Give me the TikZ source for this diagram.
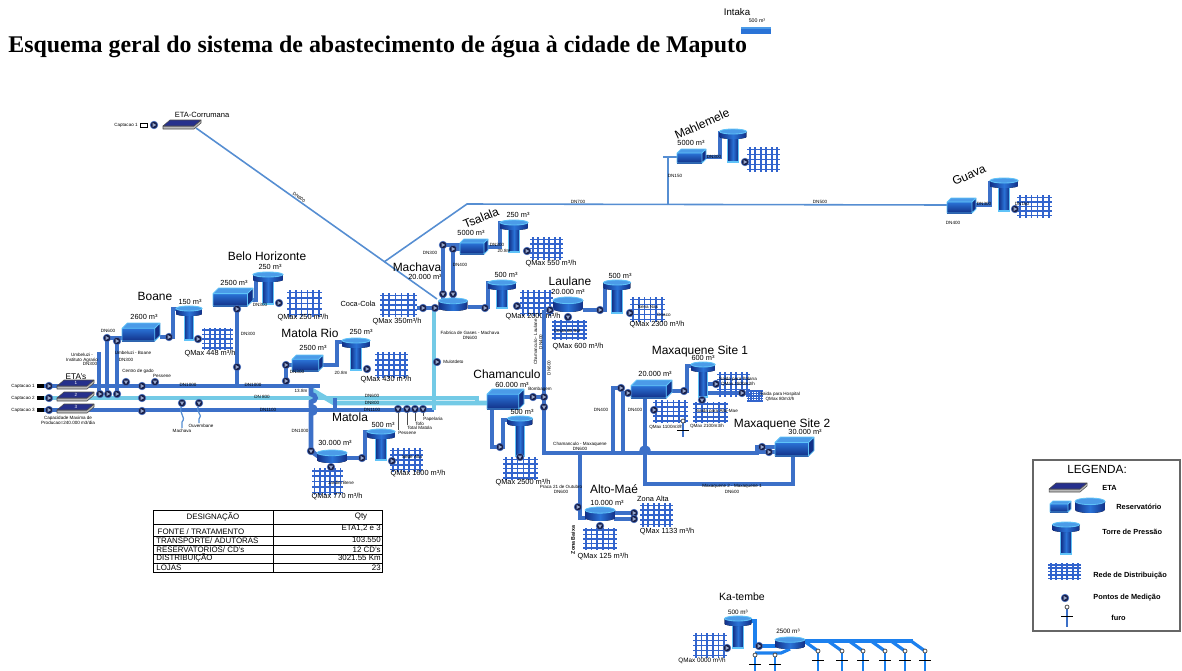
\documentclass[tikz,border=0pt]{standalone}
\usepackage{fontspec}
\setmainfont{Liberation Serif}
\setsansfont{Liberation Sans}
\definecolor{pipeblue}{RGB}{60,112,200}
\definecolor{pipecyan}{RGB}{115,202,230}
\definecolor{thinblue}{RGB}{86,142,210}
\definecolor{gridblue}{RGB}{50,100,205}
\definecolor{navy}{RGB}{22,30,72}
\definecolor{meteredge}{RGB}{70,110,190}
\definecolor{metertri}{RGB}{150,165,200}
\definecolor{resdark}{RGB}{18,48,135}
\definecolor{resmid}{RGB}{42,115,215}
\definecolor{reslight}{RGB}{75,155,232}
\definecolor{resedge}{RGB}{95,195,248}
\definecolor{etatop}{RGB}{38,48,140}
\definecolor{katblue}{RGB}{28,128,238}
\newcommand\upx{0.5669pt}

% box reservoir: left x, top y, width, height
\newcommand\ResBox[4]{%
  \pgfmathsetmacro\boxd{0.14*#3}%
  \fill[resdark] ({#1+#3-\boxd},{#2+\boxd}) -- ({#1+#3},{#2}) -- ({#1+#3},{#2+#4-\boxd}) -- ({#1+#3-\boxd},{#2+#4}) -- cycle;
  \fill[top color=resmid, bottom color=resdark] ({#1},{#2+\boxd}) rectangle ({#1+#3-\boxd},{#2+#4});
  \fill[reslight] ({#1},{#2+\boxd}) -- ({#1+\boxd},{#2}) -- ({#1+#3},{#2}) -- ({#1+#3-\boxd},{#2+\boxd}) -- cycle;
  \draw[resedge, line width=0.45pt, line join=round] ({#1},{#2+\boxd}) -- ({#1+\boxd},{#2}) -- ({#1+#3},{#2}) -- ({#1+#3},{#2+#4-\boxd}) -- ({#1+#3-\boxd},{#2+#4}) -- ({#1},{#2+#4}) -- cycle
    ({#1},{#2+\boxd}) -- ({#1+#3-\boxd},{#2+\boxd}) -- ({#1+#3},{#2}) ({#1+#3-\boxd},{#2+\boxd}) -- ({#1+#3-\boxd},{#2+#4});
}
% cylindrical reservoir: centre x, top y, width, height
\newcommand\ResCyl[4]{%
  \pgfmathsetmacro\cylry{0.22*#4}%
  \fill[left color=resdark, right color=resdark, middle color=resmid]
    ({#1-#3/2},{#2+\cylry}) -- ({#1-#3/2},{#2+#4-\cylry})
    arc[start angle=180, end angle=360, x radius={#3/2*\upx}, y radius={\cylry*\upx}]
    -- ({#1+#3/2},{#2+\cylry}) -- cycle;
  \fill[reslight] (#1,{#2+\cylry}) ellipse[x radius={#3/2*\upx}, y radius={\cylry*\upx}];
  \draw[resedge, line width=0.45pt] (#1,{#2+\cylry}) ellipse[x radius={#3/2*\upx}, y radius={\cylry*\upx}];
}
% pressure tower: centre x, top y, top width, foot y
\newcommand\Tower[4]{%
  \pgfmathsetmacro\stemw{0.19*#3}%
  \fill[left color=resdark, right color=resdark, middle color=resmid] ({#1-\stemw},{#2+8}) rectangle ({#1+\stemw},{#4});
  \draw[resedge, line width=0.6pt] ({#1-\stemw},{#2+8}) -- ({#1-\stemw},{#4}) -- ({#1+\stemw},{#4}) -- ({#1+\stemw},{#2+8});
  \fill[left color=resdark, right color=resdark, middle color=resmid]
    ({#1-#3/2},{#2+2.5}) -- ({#1-#3/2},{#2+8})
    arc[start angle=180, end angle=360, x radius={#3/2*\upx}, y radius={2*\upx}]
    -- ({#1+#3/2},{#2+2.5}) -- cycle;
  \fill[reslight] (#1,{#2+2.5}) ellipse[x radius={#3/2*\upx}, y radius={2.5*\upx}];
  \draw[resedge, line width=0.5pt] (#1,{#2+2.5}) ellipse[x radius={#3/2*\upx}, y radius={2.5*\upx}];
}
% distribution network: x0, y0, x1, y1
\newcommand\DistGrid[4]{%
  \foreach \gi in {0,...,5} {\draw[gridline] ({#1+(\gi+0.5)*(#3-#1)/6},{#2}) -- ++(0,{#4-#2});}
  \foreach \gj in {0,...,4} {\draw[gridline] ({#1},{#2+(\gj+0.5)*(#4-#2)/5}) -- ++({#3-#1},0);}
}
% measuring point
\newcommand\Meter[2]{%
  \fill[navy, draw=meteredge, line width=0.35pt] (#1,#2) circle[radius={3.8*\upx}];
  \fill[metertri] ({#1-1.3},{#2-2}) -- ({#1-1.3},{#2+2}) -- ({#1+2.2},{#2}) -- cycle;
}
\newcommand\MeterDown[2]{%
  \fill[navy, draw=meteredge, line width=0.35pt] (#1,#2) circle[radius={3.8*\upx}];
  \fill[metertri] ({#1-2},{#2-1.3}) -- ({#1+2},{#2-1.3}) -- (#1,{#2+2.2}) -- cycle;
}
% treatment plant slab: left x, top y, width
\newcommand\EtaSlab[3]{%
  \fill[gray!55, draw=black!70, line width=0.3pt, line join=round] ({#1},{#2+6}) -- ({#1+#3-7},{#2+6}) -- ({#1+#3},{#2}) -- ({#1+#3},{#2+3}) -- ({#1+#3-7},{#2+9}) -- ({#1},{#2+9}) -- cycle;
  \fill[etatop, draw=black!70, line width=0.3pt, line join=round] ({#1},{#2+6}) -- ({#1+7},{#2}) -- ({#1+#3},{#2}) -- ({#1+#3-7},{#2+6}) -- cycle;
}
% borehole: x, top y, foot y, colour
\newcommand\Furo[4]{%
  \draw[#4, line width=1.6pt] (#1,{#2+2}) -- (#1,#3);
  \draw[black, line width=0.5pt] ({#1-6},{#2+9}) -- ({#1+6},{#2+9});
  \draw[black!75, line width=0.4pt, fill=white] (#1,#2) circle[radius={2*\upx}];
}

\begin{document}
\begin{tikzpicture}[x=0.02cm, y=-0.02cm,
  mainpipe/.style={draw=pipeblue, line width=2.7pt},
  pipe/.style={draw=pipeblue, line width=2.2pt},
  cyanpipe/.style={draw=pipecyan, line width=2.7pt},
  thinpipe/.style={draw=thinblue, line width=0.9pt},
  katpipe/.style={draw=katblue, line width=1.8pt},
  gridline/.style={draw=gridblue, line width=0.9pt},
  sitelbl/.style={font=\sffamily\fontsize{6.8}{8}\selectfont, inner sep=0pt},
  vollbl/.style={font=\sffamily\fontsize{4.2}{5}\selectfont, inner sep=0pt},
  tinylbl/.style={font=\sffamily\fontsize{2.6}{3}\selectfont, inner sep=0pt, align=center},
  tablbl/.style={font=\sffamily\fontsize{4.5}{5}\selectfont, inner sep=0pt},
  leglbl/.style={font=\sffamily\bfseries\fontsize{4.2}{5}\selectfont, inner sep=0pt, anchor=west},
]
\useasboundingbox (0,0) rectangle (1182,670);
\fill[white] (0,0) rectangle (1182,670);

% ---------------- title ----------------
\node[font=\bfseries\fontsize{13.6}{15}\selectfont, inner sep=0pt, anchor=west] (title) at (8,47) {Esquema geral do sistema de abastecimento de água à cidade de Maputo};
\node[font=\sffamily\fontsize{5.5}{6}\selectfont, inner sep=0pt] (intaka) at (737,12) {Intaka};
\node[tinylbl, font=\sffamily\fontsize{3}{3.5}\selectfont] (intakav) at (757,21) {500 m³};
\fill[resmid] (741,28) rectangle (771,34);
\fill[reslight] (741,27) rectangle (771,29);

% ---------------- Corrumana transmission line ----------------
\draw[thinpipe] (196,128) -- (437,299) node[pos=0.42, sloped, above=0.5pt, tinylbl] (dncorr) {DN600};
\draw[thinpipe] (384,262) -- (467,204) -- (947,205);
\draw[thinpipe] (668,205) -- (668,157) -- (678,157);
\draw[draw=thinblue, line width=1.6pt] (663,157) -- (678,157);
\draw[draw=thinblue, line width=1.6pt] (936,205) -- (948,205);
\node[tinylbl] (dn700) at (578,202) {DN700};
\node[tinylbl] (dn500) at (820,202) {DN500};
\node[tinylbl] (dn150) at (675,176) {DN150};

\node[font=\sffamily\fontsize{4.3}{5}\selectfont, inner sep=0pt] (etacorr) at (202,115) {ETA-Corrumana};
\EtaSlab{163}{120}{38}
\draw[black, line width=0.4pt, fill=white] (140,123) rectangle (147,127);
\node[tinylbl, anchor=east] (capc) at (138,125) {Captacao 1};
\Meter{154}{125}

% ---------------- Umbeluzi system ----------------
\draw[mainpipe] (44,386) -- (320,386);
\draw[cyanpipe] (44,398) -- (477,398) -- (477,403);
\draw[mainpipe] (44,410) -- (434,410);
\draw[cyanpipe] (312,390) -- (334,403) -- (488,403);
\draw[cyanpipe] (434,311) -- (434,410);
\draw[pipe] (335,398) -- (335,410);
\draw[mainpipe] (311,386) -- (311,394) .. controls (317,395) and (317,401) .. (311,402) -- (311,406)
  .. controls (317,407) and (317,413) .. (311,414) -- (311,451) -- (318,456);

% Boane off-takes
\draw[pipe] (99,352) -- (99,393);
\draw[pipe] (107,338) -- (107,394);
\draw[pipe] (117,341) -- (117,394);
\draw[pipe] (107,338) -- (124,338);
\draw[pipe] (126,386) -- (126,383);
\draw[pipe] (155,386) -- (155,383);
\draw[draw=thinblue, line width=0.7pt] (182,406) .. controls (177,412) and (187,417) .. (182,422) -- (182,428);
\draw[draw=thinblue, line width=0.7pt] (199,406) .. controls (194,411) and (204,415) .. (199,419) -- (199,423);

\foreach \k/\yy in {1/386,2/398,3/410} {
  \fill[black] (37,{\yy-2}) rectangle (44,{\yy+2});
  \Meter{49}{\yy}
  \EtaSlab{57}{\yy-6}{37}
  \node[tinylbl, text=white] (etanum\k) at (76,{\yy-3}) {\k};
  \node[tinylbl, anchor=east] (cap\k) at (35,\yy) {Captacao \k};
}
\node[font=\sffamily\fontsize{4.7}{5}\selectfont, inner sep=0pt] (etas) at (76,377) {ETA's};
\node[tinylbl] (capac) at (68,420) {Capacidade Maxima de\\Producao=240.000 m3/dia};

\node[tinylbl] (dn1000a) at (188,385) {DN1000};
\node[tinylbl] (dn1000b) at (253,385) {DN1000};
\node[tinylbl] (dn800a) at (262,397) {DN 800};
\node[tinylbl] (dn1100a) at (268,410) {DN1100};
\node[tinylbl] (d138) at (301,391) {13.8m};

\Meter{100}{394}
\Meter{108}{394}
\Meter{117}{394}
\Meter{107}{338}
\Meter{117}{341}
\MeterDown{126}{382}
\Meter{142}{386}
\MeterDown{155}{382}
\Meter{142}{398}
\Meter{142}{411}
\MeterDown{182}{403}
\MeterDown{199}{403}
\node[tinylbl] (cgado) at (138,371) {Centro de gado};
\node[tinylbl] (pess) at (162,376) {Pessene};
\node[tinylbl] (umbia) at (82,358) {Umbeluzi -\\Instituto Agrario};
\node[tinylbl] (dn300u) at (90,364) {DN300};
\node[tinylbl] (umbbo) at (133,353) {Umbeluzi - Boane};
\node[tinylbl] (dn300b) at (126,360) {DN300};
\node[tinylbl] (dn600b) at (108,331) {DN600};
\node[tinylbl] (mach1) at (182,431) {Machava};
\node[tinylbl] (ouv) at (201,426) {Ouvembane};

% Boane
\node[sitelbl] (boane) at (155,296) {Boane};
\draw[pipe] (160,337) -- (173,337) -- (173,309) -- (178,309);
\ResBox{122}{323}{38}{18}
\node[vollbl] (boanev) at (144,317) {2600 m³};
\Tower{189}{306}{26}{340}
\node[vollbl] (boanet) at (190,302) {150 m³};
\Meter{169}{337}
\DistGrid{202}{328}{233}{350}
\Meter{198}{339}
\node[vollbl] (boaneq) at (210,354) {QMax 448 m³/h};

% Belo Horizonte
\node[sitelbl] (bh) at (267,256) {Belo Horizonte};
\draw[pipe] (237,306) -- (237,386);
\draw[pipe] (252,300) -- (256,300) -- (256,276) -- (258,276);
\ResBox{213}{288}{40}{18}
\node[vollbl] (bhv) at (234,283) {2500 m³};
\Tower{268}{272}{30}{304}
\node[vollbl] (bht) at (270,267) {250 m³};
\node[tinylbl] (bhdn) at (260,305) {DN300};
\DistGrid{287}{290}{322}{317}
\Meter{279}{303}
\node[vollbl] (bhq) at (303,318) {QMax 250 m³/h};
\Meter{237}{309}
\Meter{237}{367}
\node[tinylbl] (bhdn2) at (248,334) {DN300};

% Matola Rio
\node[sitelbl] (mrio) at (310,333) {Matola Rio};
\draw[pipe] (286,365) -- (292,365);
\draw[pipe] (286,365) -- (286,386);
\draw[pipe] (322,365) -- (337,365) -- (337,342) -- (343,342);
\ResBox{292}{355}{31}{16}
\node[vollbl] (mriov) at (313,348) {2500 m³};
\Tower{356}{338}{28}{370}
\node[vollbl] (mriot) at (361,332) {250 m³};
\node[tinylbl] (mrio208) at (341,373) {20.8m};
\DistGrid{375}{352}{408}{378}
\Meter{367}{369}
\node[vollbl] (mrioq) at (386,380) {QMax 430 m³/h};
\Meter{286}{365}
\Meter{286}{381}
\node[tinylbl] (mriodn) at (297,372) {DN300};

% Matola
\node[tinylbl] (dn600m) at (372,396) {DN600};
\node[tinylbl] (dn800m) at (372,403) {DN800};
\node[tinylbl] (dn1100m) at (372,410) {DN1100};
\draw[draw=black!70, line width=0.4pt] (398,412) -- (398,430) (407,412) -- (407,425) (415,412) -- (415,421) (423,412) -- (423,416);
\MeterDown{398}{409}
\MeterDown{407}{409}
\MeterDown{415}{409}
\MeterDown{423}{409}
\node[tinylbl, anchor=west] (mt1) at (398,433) {Pessene};
\node[tinylbl, anchor=west] (mt2) at (407,428) {Total Matola};
\node[tinylbl, anchor=west] (mt3) at (415,424) {Tofo};
\node[tinylbl, anchor=west] (mt4) at (423,419) {Papelaria};
\node[sitelbl] (matola) at (350,417) {Matola};
\node[tinylbl] (mdn1000) at (300,431) {DN1000};
\draw[pipe] (347,458) -- (365,458) -- (365,432) -- (370,432);
\ResCyl{332}{450}{30}{13}
\node[vollbl] (matv) at (335,443) {30.000 m³};
\MeterDown{311}{451}
\Meter{362}{458}
\Tower{381}{429}{28}{460}
\node[vollbl] (matt) at (383,425) {500 m³};
\DistGrid{390}{448}{423}{472}
\Meter{392}{461}
\node[tinylbl] (matsa) at (412,457) {Sede Alta};
\node[vollbl] (matq1) at (418,474) {QMax 1600 m³/h};
\DistGrid{312}{468}{343}{495}
\MeterDown{331}{467}
\node[tinylbl] (matjb) at (341,483) {Jardim Bene};
\node[vollbl] (matq2) at (337,497) {QMax 770 m³/h};

% Machava and Tsalala
\node[sitelbl] (machava) at (417,267) {Machava};
\node[vollbl] (machv) at (425,277) {20.000 m³};
\draw[pipe] (443,245) -- (443,299);
\draw[pipe] (453,249) -- (453,299);
\draw[pipe] (443,245) -- (461,245);
\draw[pipe] (453,249) -- (461,249);
\draw[pipe] (488,247) -- (500,247) -- (500,223) -- (503,223);
\draw[pipe] (468,307) -- (488,307) -- (488,283) -- (491,283);
\draw[pipe] (417,308) -- (440,308);
\ResCyl{453}{298}{29}{13}
\Meter{443}{245}
\Meter{453}{249}
\MeterDown{443}{294}
\MeterDown{453}{294}
\node[tinylbl] (mdn1) at (430,253) {DN300};
\node[tinylbl] (mdn2) at (460,265) {DN400};
\ResBox{460}{239}{28}{15}
\node[vollbl] (tsv) at (471,233) {5000 m³};
\node[sitelbl, rotate=22] (tsalala) at (481,218) {Tsalala};
\Tower{514}{220}{28}{252}
\node[vollbl] (tst) at (518,215) {250 m³};
\node[tinylbl] (tsdn) at (497,245) {DN300};
\node[tinylbl] (ts208) at (504,251) {20.8m};
\DistGrid{530}{237}{563}{260}
\Meter{527}{251}
\node[vollbl] (tsq) at (551,264) {QMax 550 m³/h};
\Tower{502}{280}{28}{308}
\node[vollbl] (macht) at (506,275) {500 m³};
\Meter{485}{308}
\DistGrid{520}{290}{553}{316}
\Meter{517}{306}
\node[vollbl] (machq) at (533,317) {QMax 2000 m³/h};
\DistGrid{380}{293}{417}{317}
\node[vollbl] (coca) at (358,304) {Coca-Cola};
\node[vollbl] (cocaq) at (397,322) {QMax 350m³/h};
\Meter{423}{308}
\Meter{435}{308}
\node[tinylbl] (fabg) at (470,335) {Fabrica de Gases - Machava\\DN600};
\Meter{437}{362}
\node[tinylbl, anchor=west] (mulot) at (443,362) {Mulotdeto};

% Mahlemele
\ResBox{677}{149}{29}{14}
\node[vollbl] (mahv) at (691,143) {5000 m³};
\node[sitelbl, rotate=24] (mahl) at (702,124) {Mahlemele};
\draw[pipe] (706,157) -- (720,157) -- (720,133) -- (722,133);
\Tower{733}{129}{27}{162}
\node[tinylbl] (mahdn) at (714,157) {DN300};
\DistGrid{747}{147}{780}{172}
\Meter{745}{162}

% Guava
\ResBox{947}{198}{29}{15}
\node[sitelbl, rotate=24] (guava) at (969,175) {Guava};
\draw[pipe] (976,205) -- (990,205) -- (990,183) -- (992,183);
\Tower{1004}{178}{28}{211}
\node[tinylbl] (guadn) at (984,204) {DN300};
\DistGrid{1017}{195}{1052}{218}
\Meter{1015}{209}
\node[tinylbl] (guadn4) at (953,223) {DN400};
\node[tinylbl] (guadn1) at (1022,204) {DN160};

% Laulane
\node[sitelbl] (laulane) at (570,281) {Laulane};
\draw[pipe] (544,310) -- (553,310);
\draw[pipe] (544,310) -- (544,453) -- (641,453) .. controls (641,445) and (649,445) .. (649,453) -- (757,453) -- (757,447) -- (776,447);
\draw[pipe] (757,452) -- (776,452);
\draw[pipe] (583,310) -- (605,310) -- (605,284) -- (607,284);
\ResCyl{568}{297}{30}{15}
\node[vollbl] (lauv) at (568,292) {20.000 m³};
\Meter{550}{310}
\Meter{600}{310}
\Tower{617}{280}{27}{313}
\node[vollbl] (laut) at (620,276) {500 m³};
\DistGrid{630}{297}{665}{322}
\Meter{630}{313}
\node[tinylbl] (lsn) at (648,307) {Sena Nas};
\node[tinylbl] (ldn) at (664,315) {Dnaco};
\node[vollbl] (lauq) at (657,325) {QMax 2300 m³/h};
\DistGrid{552}{320}{587}{340}
\MeterDown{568}{317}
\node[tinylbl] (lcos) at (567,331) {Costa do Sol};
\node[vollbl] (lauq2) at (578,347) {QMax 600 m³/h};
\node[tinylbl, rotate=90] (chlau) at (538,342) {Chamanculo - Laulane\\DN400};
\node[tinylbl, rotate=90] (dn600l) at (549,368) {DN600};

% Chamanculo
\node[sitelbl] (chaman) at (507,374) {Chamanculo};
\draw[pipe] (523,397) -- (544,397);
\draw[pipe] (492,408) -- (492,447) -- (503,447) -- (503,420) -- (510,420);
\ResBox{487}{389}{37}{20}
\node[vollbl] (chv) at (512,385) {60.000 m³};
\node[tinylbl] (chbomb) at (540,389) {Bombagem};
\Meter{533}{397}
\Meter{544}{397}
\MeterDown{544}{407}
\Meter{500}{447}
\Tower{520}{416}{25}{456}
\node[vollbl] (cht) at (522,412) {500 m³};
\DistGrid{503}{457}{538}{480}
\MeterDown{520}{457}
\node[vollbl] (chq) at (523,483) {QMax 2500 m³/h};
\node[tinylbl] (chmax) at (580,446) {Chamanculo - Maxaquene\\DN600};

% Maxaquene
\draw[pipe] (613,453) -- (613,388) -- (621,388);
\draw[pipe] (623,453) -- (623,393) -- (632,393);
\draw[pipe] (645,397) -- (645,484) -- (793,484) -- (793,455);
\draw[pipe] (671,391) -- (687,391) -- (687,366) -- (693,366);
\draw[pipe] (706,384) -- (716,384);
\draw[pipe] (706,393) -- (742,393);
\node[tinylbl] (mdn4a) at (601,410) {DN400};
\node[tinylbl] (mdn4b) at (635,410) {DN400};
\ResBox{631}{380}{41}{18}
\node[vollbl] (mx1v) at (655,374) {20.000 m³};
\node[sitelbl] (mx1) at (700,351) {Maxaquene Site 1};
\Meter{621}{388}
\Meter{628}{393}
\Meter{684}{391}
\Tower{703}{362}{24}{397}
\node[vollbl] (mx1t) at (703,358) {600 m³};
\DistGrid{717}{372}{750}{397}
\Meter{716}{384}
\node[tinylbl] (mxpol) at (738,382) {Saida para Polana\\QMax 1800m3/h};
\DistGrid{747}{390}{763}{402}
\Meter{742}{393}
\node[tinylbl] (mxhos) at (780,397) {Saida para Hospital\\QMax 80m3/h};
\DistGrid{693}{402}{728}{423}
\MeterDown{702}{400}
\node[tinylbl] (mxalt) at (717,411) {Saida para Alto-Mae};
\node[tinylbl] (mxq21) at (707,426) {QMax 2100m3/h};
\DistGrid{653}{400}{688}{423}
\Meter{654}{410}
\node[tinylbl] (mxq11) at (666,427) {QMax 1100m3/h};
\Furo{683}{421}{437}{pipeblue}
\ResBox{775}{437}{39}{19}
\node[vollbl] (mx2v) at (805,432) {30.000 m³};
\node[sitelbl] (mx2) at (782,424) {Maxaquene Site 2};
\Meter{762}{447}
\Meter{769}{452}
\node[tinylbl] (mx21) at (732,489) {Maxaquene 2 - Maxaquene 1\\DN600};

% Alto-Mae
\draw[pipe] (580,453) -- (580,518) -- (586,518);
\draw[pipe] (614,513) -- (634,513);
\draw[pipe] (614,519) -- (634,519);
\node[tinylbl] (praca) at (561,489) {Praca 21 de Outubro\\DN600};
\node[sitelbl] (altomae) at (614,489) {Alto-Maé};
\ResCyl{600}{507}{30}{14}
\node[vollbl] (amv) at (607,503) {10.000 m³};
\Meter{578}{507}
\DistGrid{640}{503}{673}{527}
\Meter{634}{513}
\Meter{634}{519}
\node[vollbl] (zalta) at (653,499) {Zona Alta};
\node[vollbl] (amq1) at (667,532) {QMax 1133 m³/h};
\DistGrid{583}{528}{617}{550}
\MeterDown{600}{526}
\node[vollbl] (amq2) at (603,557) {QMax 125 m³/h};
\node[tinylbl, rotate=90, font=\sffamily\bfseries\fontsize{3}{3.5}\selectfont] (zbaixa) at (573,540) {Zona Baixa};

% ---------------- summary table ----------------
\draw[black, line width=0.45pt] (153,510) rectangle (382,572);
\draw[black, line width=0.45pt] (273,510) -- (273,572);
\foreach \ty in {524,536,545,554,563} {\draw[black, line width=0.4pt] (153,\ty) -- (382,\ty);}
\node[tablbl] (thd) at (213,517) {DESIGNAÇÃO};
\node[tablbl] (thq) at (361,517) {Qty};
\node[tablbl] (tr1) at (201,532) {FONTE / TRATAMENTO};
\node[tablbl, anchor=west] (tr2) at (156,541) {TRANSPORTE/ ADUTORAS};
\node[tablbl, anchor=west] (tr3) at (156,550) {RESERVATORIOS/ CD's};
\node[tablbl, anchor=west] (tr4) at (156,557.5) {DISTRIBUIÇÃO};
\node[tablbl, anchor=west] (tr5) at (156,568) {LOJAS};
\node[tablbl, anchor=east] (tv1) at (381,528) {ETA1,2 e 3};
\node[tablbl, anchor=east] (tv2) at (381,540) {103.550};
\node[tablbl, anchor=east] (tv3) at (381,549.5) {12 CD's};
\node[tablbl, anchor=east] (tv4) at (381,557.5) {3021.55 Km};
\node[tablbl, anchor=east] (tv5) at (381,567.5) {23};

% ---------------- legend ----------------
\draw[black!60, line width=0.6pt] (1033,460) rectangle (1180,631);
\node[font=\sffamily\fontsize{6.7}{8}\selectfont, inner sep=0pt] (leg) at (1097,469) {LEGENDA:};
\EtaSlab{1049}{483}{38}
\node[leglbl] (leta) at (1102,488) {ETA};
\ResBox{1050}{501}{21}{11}
\ResCyl{1090}{498}{30}{15}
\node[leglbl] (lres) at (1116,507) {Reservatório};
\Tower{1066}{522}{27}{554}
\node[leglbl] (ltor) at (1102,532) {Torre de Pressão};
\DistGrid{1048}{563}{1081}{580}
\node[leglbl] (lrede) at (1093,576) {Rede de Distribuição};
\Meter{1065}{598}
\node[leglbl] (lmed) at (1093,598) {Pontos de Medição};
\Furo{1067}{607}{627}{pipeblue}
\node[leglbl] (lfuro) at (1111,618) {furo};

% ---------------- Ka-tembe ----------------
\node[font=\sffamily\fontsize{6}{7}\selectfont, inner sep=0pt] (katembe) at (742,597) {Ka-tembe};
\draw[katpipe] (751,621) -- (755,621) -- (755,646) -- (776,646);
\draw[katpipe] (804,641) -- (913,641);
\foreach \fx in {818,842,863,885,905,925} {\draw[katpipe] ({\fx-14},641) -- (\fx,651);}
\draw[katpipe] (790,649) -- (781,653) -- (755,653);
\Tower{738}{616}{27}{648}
\node[vollbl, font=\sffamily\fontsize{3.6}{4}\selectfont] (katv1) at (738,612) {500 m³};
\DistGrid{693}{633}{727}{658}
\Meter{727}{648}
\node[vollbl, font=\sffamily\fontsize{3.6}{4}\selectfont] (katq) at (702,661) {QMax 0000 m³/h};
\ResCyl{790}{637}{30}{12}
\node[vollbl, font=\sffamily\fontsize{3.6}{4}\selectfont] (katv2) at (788,631) {2500 m³};
\Meter{759}{646}
\foreach \fx in {818,842,863,885,905,925} {\Furo{\fx}{651}{672}{katblue}}
\Furo{755}{655}{672}{katblue}
\Furo{775}{655}{672}{katblue}
\end{tikzpicture}
\end{document}
